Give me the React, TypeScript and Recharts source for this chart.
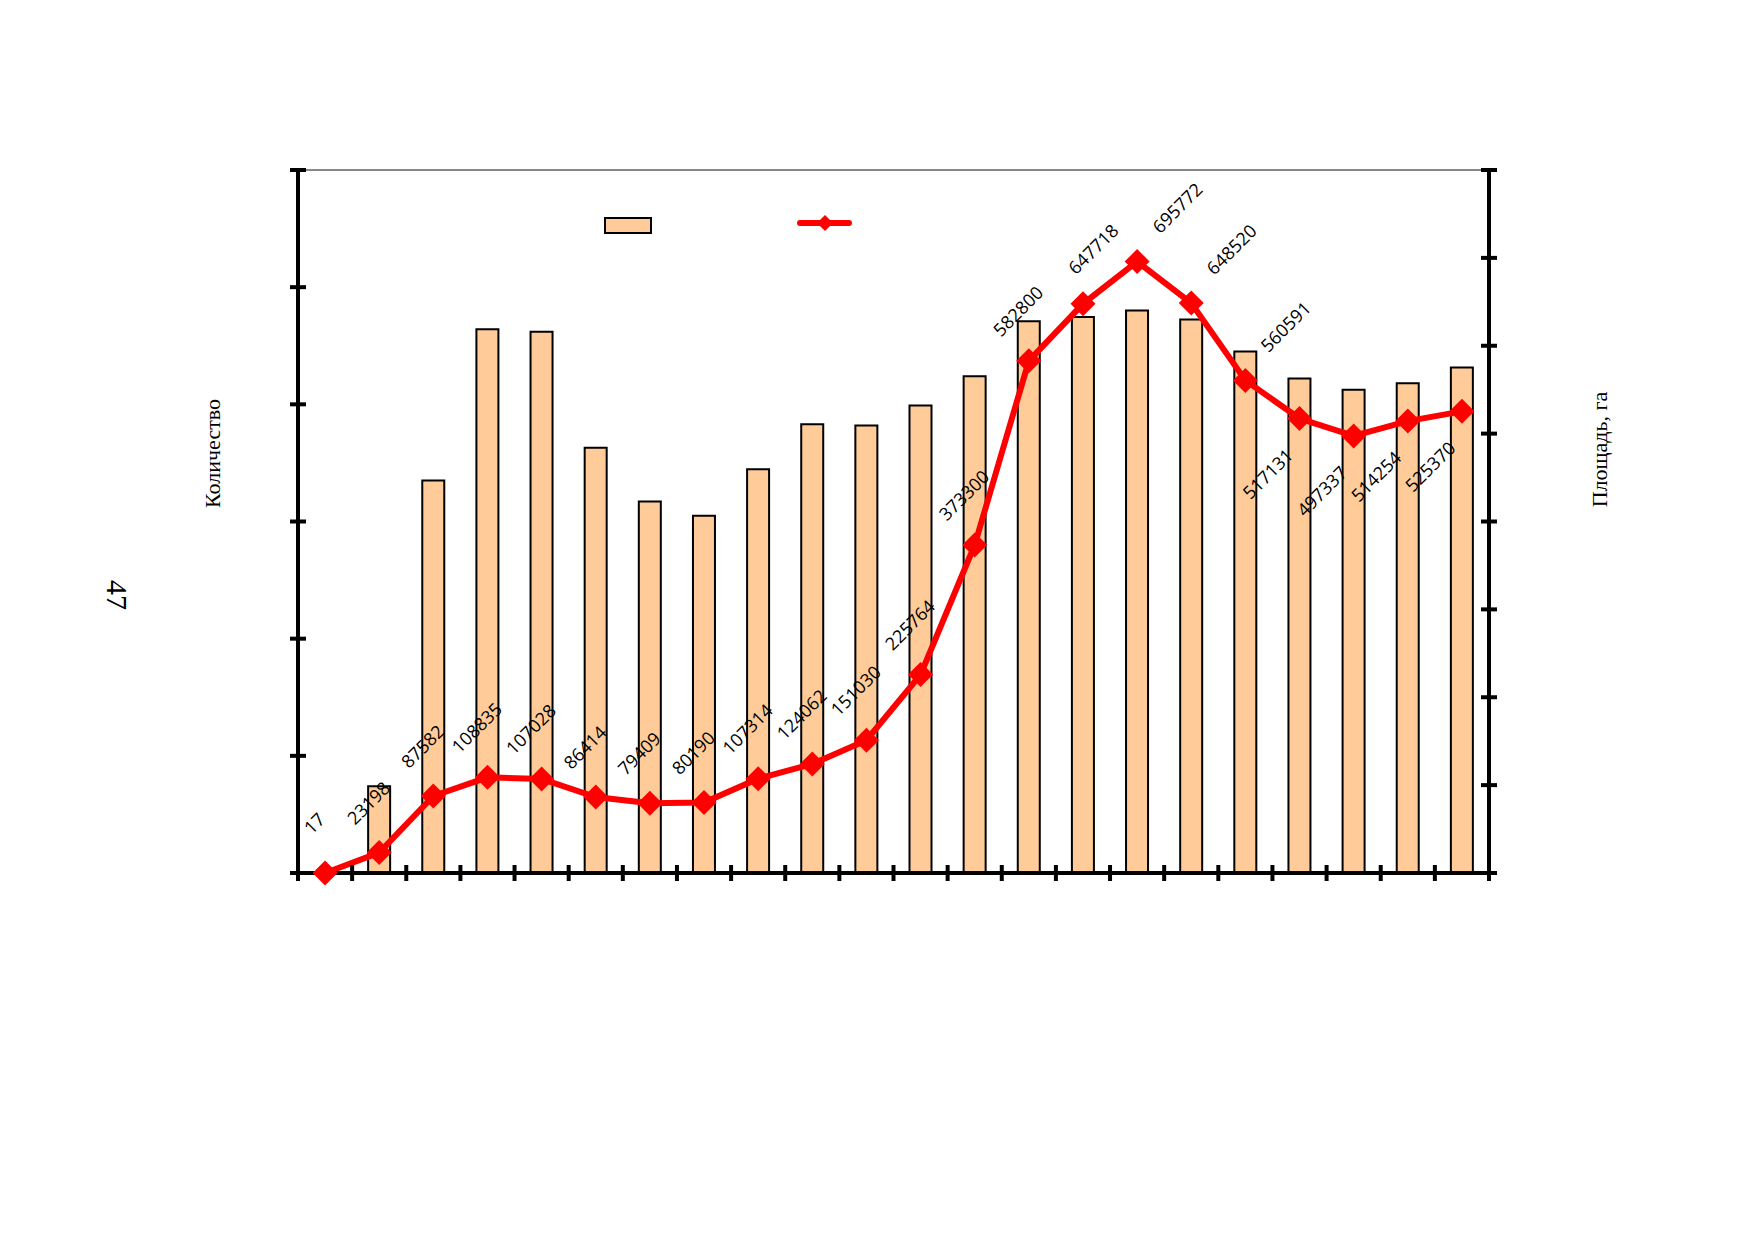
import {
  ComposedChart,
  Bar,
  Line,
  XAxis,
  YAxis,
  LabelList,
  Legend,
  ReferenceLine,
} from "recharts";

// periods along the x axis (the original shows no labels for them)
const periods = [
  "1", "2", "3", "4", "5", "6", "7", "8", "9", "10", "11",
  "12", "13", "14", "15", "16", "17", "18", "19", "20", "21", "22",
];

// Количество (left axis)
const countValues = [
  0, 740, 3350, 4640, 4620, 3630, 3170, 3050, 3445, 3830, 3820,
  3990, 4240, 4710, 4745, 4800, 4725, 4450, 4220, 4125, 4180, 4315,
];

// Площадь, га (right axis), from the data labels
const areaValues = [
  17, 23198, 87582, 108835, 107028, 86414, 79409, 80190, 107314, 124062, 151030,
  225764, 373300, 582800, 647718, 695772, 648520, 560591, 517131, 497337, 514254, 525370,
];

const leftTicks = [0, 1000, 2000, 3000, 4000, 5000, 6000];
const rightTicks = [0, 100000, 200000, 300000, 400000, 500000, 600000, 700000, 800000];

const data = periods.map((p, i) => ({
  period: p,
  count: countValues[i],
  area: areaValues[i],
}));

const BAR_FILL = "#ffcc99";
const LINE_RED = "#ff0000";

const CHART_W = 1738;
const CHART_H = 1223;
const PLOT_W = 1191;
const HALF_BAND = PLOT_W / periods.length / 2;

// eslint-disable-next-line @typescript-eslint/no-explicit-any
function CrossTickY(props: any) {
  const { x, y } = props;
  return <line x1={x - 8} x2={x + 8} y1={y} y2={y} stroke="#000" strokeWidth={4} />;
}

// eslint-disable-next-line @typescript-eslint/no-explicit-any
function CrossTickX(props: any) {
  const { x, y, index, visibleTicksCount } = props;
  const last = index === visibleTicksCount - 1;
  return (
    <g>
      <line x1={x - HALF_BAND} x2={x - HALF_BAND} y1={y - 8} y2={y + 8} stroke="#000" strokeWidth={4} />
      {last && (
        <line x1={x + HALF_BAND} x2={x + HALF_BAND} y1={y - 8} y2={y + 8} stroke="#000" strokeWidth={4} />
      )}
    </g>
  );
}

// eslint-disable-next-line @typescript-eslint/no-explicit-any
function Diamond(props: any) {
  const { cx, cy, index } = props;
  const r = 12.5;
  return (
    <polygon
      key={`d-${index}`}
      points={`${cx},${cy - r} ${cx + r},${cy} ${cx},${cy + r} ${cx - r},${cy}`}
      fill={LINE_RED}
    />
  );
}

// where the rotated label sits relative to its point
function labelOffset(index: number) {
  if (index >= 18) return { dx: -32, dy: 55 }; // below, at the tail
  if (index >= 15) return { dx: 40, dy: -54 }; // upper right, after the peak
  if (index === 14) return { dx: 10, dy: -55 };
  return { dx: -11, dy: -50 };
}

// eslint-disable-next-line @typescript-eslint/no-explicit-any
function AreaLabel(props: any) {
  const { value, index } = props;
  const x = props.x ?? props.viewBox?.x;
  const y = props.y ?? props.viewBox?.y;
  const { dx, dy } = labelOffset(index);
  const cx = x + dx;
  const cy = y + dy;
  return (
    <text
      x={cx}
      y={cy}
      transform={`rotate(-45 ${cx} ${cy})`}
      textAnchor="middle"
      dominantBaseline="central"
      fontFamily="Open Sans"
      fontSize={18}
      fill="#000"
    >
      {value}
    </text>
  );
}

// eslint-disable-next-line @typescript-eslint/no-explicit-any
function AxisTitle(props: any) {
  const { viewBox, text, side, dx, dy } = props;
  const x = side === "left" ? viewBox.x + viewBox.width + dx : viewBox.x + dx;
  const y = viewBox.y + viewBox.height / 2 + dy;
  return (
    <text
      x={x}
      y={y}
      transform={`rotate(-90 ${x} ${y})`}
      textAnchor="middle"
      dominantBaseline="central"
      fontFamily="Liberation Serif"
      fontSize={22}
      fill="#000"
    >
      {text}
    </text>
  );
}

function LegendKeys() {
  return (
    <svg width={300} height={40}>
      <rect x={7} y={10} width={46} height={15} fill={BAR_FILL} stroke="#000" strokeWidth={2} />
      <line x1={202} x2={251} y1={15} y2={15} stroke={LINE_RED} strokeWidth={6} strokeLinecap="round" />
      <polygon points="227,7 235,15 227,23 219,15" fill={LINE_RED} />
    </svg>
  );
}

export default function App() {
  return (
    <div style={{ position: "relative", width: CHART_W, height: CHART_H }}>
      <ComposedChart
        width={CHART_W}
        height={CHART_H}
        data={data}
        margin={{ top: 162, right: 197, left: 230, bottom: 338 }}
      >
        <XAxis
          dataKey="period"
          height={20}
          interval={0}
          tickSize={0}
          tickMargin={0}
          tickLine={false}
          tick={CrossTickX}
          axisLine={{ stroke: "#000", strokeWidth: 4 }}
        />
        <YAxis
          yAxisId="left"
          width={60}
          domain={[0, 6000]}
          ticks={leftTicks}
          tickSize={0}
          tickMargin={0}
          tickLine={false}
          tick={CrossTickY}
          axisLine={{ stroke: "#000", strokeWidth: 4 }}
          label={<AxisTitle text="Количество" side="left" dx={-86} dy={-68} />}
        />
        <YAxis
          yAxisId="right"
          orientation="right"
          width={60}
          domain={[0, 800000]}
          ticks={rightTicks}
          tickSize={0}
          tickMargin={0}
          tickLine={false}
          tick={CrossTickY}
          axisLine={{ stroke: "#000", strokeWidth: 4 }}
          label={<AxisTitle text="Площадь, га" side="right" dx={110} dy={-72} />}
        />
        <ReferenceLine yAxisId="right" y={800000} stroke="#888" strokeWidth={2} />
        <Legend
          layout="horizontal"
          verticalAlign="middle"
          align="center"
          wrapperStyle={{ top: 200, left: 590, width: 300, height: 40 }}
          content={LegendKeys}
        />
        <Bar
          yAxisId="left"
          dataKey="count"
          barSize={22}
          fill={BAR_FILL}
          stroke="#000"
          strokeWidth={2}
          isAnimationActive={false}
        />
        <Line
          yAxisId="right"
          type="linear"
          dataKey="area"
          stroke={LINE_RED}
          strokeWidth={6}
          dot={Diamond}
          activeDot={false}
          isAnimationActive={false}
        >
          <LabelList dataKey="area" content={AreaLabel} />
        </Line>
      </ComposedChart>
      <div
        style={{
          position: "absolute",
          left: 109,
          top: 587,
          transform: "translate(-50%, -50%) rotate(90deg)",
          fontFamily: "Liberation Serif",
          fontSize: 30,
          lineHeight: 1,
        }}
      >
        47
      </div>
    </div>
  );
}
